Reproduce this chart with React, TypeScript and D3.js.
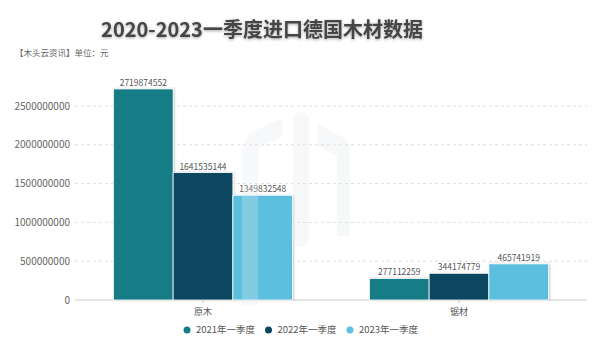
import React from "react";
import * as d3 from "d3";

const categories = ["原木", "锯材"];
const seriesNames = ["2021年一季度", "2022年一季度", "2023年一季度"];
const values2021 = [2719874552, 277112259];
const values2022 = [1641535144, 344174779];
const values2023 = [1349832548, 465741919];
const yTicks = [0, 500000000, 1000000000, 1500000000, 2000000000, 2500000000];
const colors = ["#167b86", "#07475e", "#5bbfe0"];

const W = 600, H = 355;
const FONT = "'Noto Sans CJK SC', 'Noto Sans', sans-serif";

export default function App() {
  const series = [values2021, values2022, values2023];
  const x = d3.scaleBand<string>().domain(categories).range([75, 587]).paddingInner(0.3).paddingOuter(0.15);
  const x1 = d3.scaleBand<number>().domain([0, 1, 2]).range([0, x.bandwidth()]).padding(0);
  const y = d3.scaleLinear().domain([0, 2500000000]).range([300, 106]);
  return (
    <svg width={W} height={H} style={{ position: "absolute", left: 0, top: 0, background: "#fff", fontFamily: FONT }}>
      <defs>
        <filter id="ts" x="-10%" y="-30%" width="120%" height="160%">
          <feDropShadow dx="0" dy="1" stdDeviation="1.5" floodColor="#000" floodOpacity="0.35" />
        </filter>
        <filter id="bs" x="-10%" y="-10%" width="130%" height="120%">
          <feDropShadow dx="1" dy="0" stdDeviation="1" floodColor="#000" floodOpacity="0.2" />
        </filter>
      </defs>
      <text x={262} y={37} textAnchor="middle" fontSize={20} fontWeight="bold" fill="#444" filter="url(#ts)">
        2020-2023一季度进口德国木材数据
      </text>
      <text x={15} y={56} fontSize={8.5} fill="#666">【木头云资讯】单位：元</text>
      {yTicks.map((t) => (
        <g key={t}>
          {t > 0 ? (
            <line x1={75} x2={587} y1={y(t)} y2={y(t)} stroke="#ddd" strokeDasharray="3,3" />
          ) : null}
          <text x={70} y={y(t)} dy="0.35em" textAnchor="end" fontSize={10} fill="#666">{t}</text>
        </g>
      ))}
      <line x1={75} x2={587} y1={300} y2={300} stroke="#ccc" />
      {categories.map((c, ci) => (
        <g key={c}>
          {series.map((s, si) => {
            const bx = (x(c) as number) + (x1(si) as number);
            const bw = x1.bandwidth();
            return (
              <g key={si}>
                <rect x={bx} y={y(s[ci])} width={bw} height={300 - y(s[ci])} fill={colors[si]} stroke="#fff" strokeWidth={0.8} filter="url(#bs)" />
                <text x={bx + bw / 2} y={y(s[ci]) - 3} textAnchor="middle" fontSize={8.5} fill="#555">{s[ci]}</text>
              </g>
            );
          })}
          <line x1={(x(c) as number) + x.bandwidth() / 2} x2={(x(c) as number) + x.bandwidth() / 2} y1={300} y2={303} stroke="#ccc" />
          <text x={(x(c) as number) + x.bandwidth() / 2} y={315} textAnchor="middle" fontSize={9} fill="#555">{c}</text>
        </g>
      ))}
      <g fill="#e4e9ec" opacity={0.28}>
        <rect x={293} y={112} width={16} height={135} rx={8} />
        <path d="M242,305 L242,152 Q242,137 256,130 L283,118 L283,136 L263,145 Q258,148 258,154 L258,305 Z" />
        <path d="M318,124 L344,138 Q350,142 350,150 L350,236 L337,236 L337,156 L318,146 Z" />
      </g>
      {seriesNames.map((n, i) => (
        <g key={n} transform={`translate(${187 + i * 81.5},330)`}>
          <circle r={3.5} fill={colors[i]} />
          <text x={9} dy="0.35em" fontSize={9.5} fill="#555">{n}</text>
        </g>
      ))}
    </svg>
  );
}
